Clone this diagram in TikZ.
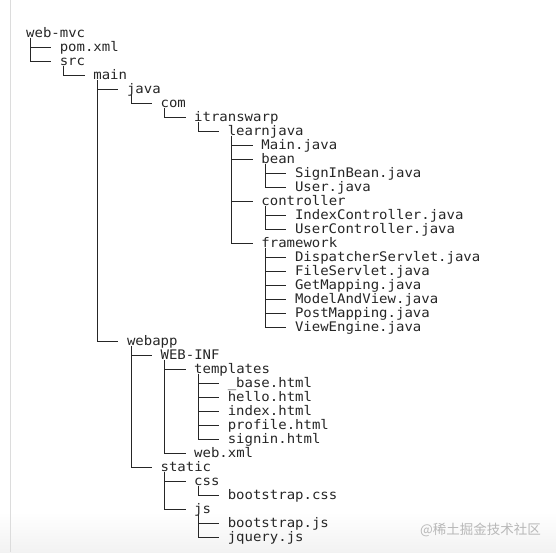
\documentclass[tikz,border=0pt]{standalone}
\usepackage{fontspec}
\setmonofont{DejaVu Sans Mono}[FakeStretch=1.06]
\newfontfamily\cjk{Noto Sans CJK SC}
\definecolor{treeink}{HTML}{262626}
\definecolor{edgegray}{HTML}{DCDCDC}
\definecolor{stampgray}{HTML}{B8B8B8}

\begin{document}
\begin{tikzpicture}[x=1pt,y=-1pt,
  entry/.style={anchor=west,inner sep=0pt,text height=9.4pt,text depth=0pt,
    font=\ttfamily\fontsize{13.2}{14}\selectfont,text=treeink},
  branch/.style={draw=treeink,line width=1pt,shorten >=8.4pt}]
\useasboundingbox (0,0) rectangle (556,552);
\fill[white] (0,0) rectangle (556,552);
\shade[top color=white,bottom color=black!5] (0,512) rectangle (556,552);
\draw[edgegray,line width=1pt] (10,0) -- (10,552);
\foreach \n/\lvl/\row/\txt in {
  root/0/0/web-mvc, pom/1/1/pom.xml, src/1/2/src, main/2/3/main,
  java/3/4/java, com/4/5/com, itw/5/6/itranswarp, learn/6/7/learnjava,
  mainj/7/8/Main.java, bean/7/9/bean, signbean/8/10/SignInBean.java,
  userj/8/11/User.java, ctrl/7/12/controller,
  indexctrl/8/13/IndexController.java, userctrl/8/14/UserController.java,
  fw/7/15/framework, dispatch/8/16/DispatcherServlet.java,
  fileserv/8/17/FileServlet.java, getmap/8/18/GetMapping.java,
  mav/8/19/ModelAndView.java, postmap/8/20/PostMapping.java,
  engine/8/21/ViewEngine.java, webapp/3/22/webapp, webinf/4/23/WEB-INF,
  tpl/5/24/templates, base/6/25/\_base.html, hello/6/26/hello.html,
  index/6/27/index.html, profile/6/28/profile.html,
  signin/6/29/signin.html, webxml/5/30/web.xml, static/4/31/static,
  css/5/32/css, bscss/6/33/bootstrap.css, js/5/34/js,
  bsjs/6/35/bootstrap.js, jq/6/36/jquery.js}
  \node[entry] (\n) at (26+33.6*\lvl,33+14*\row) {\txt};
\foreach \p/\c in {
  root/pom, root/src, src/main, main/java, main/webapp, java/com,
  com/itw, itw/learn, learn/mainj, learn/bean, learn/ctrl, learn/fw,
  bean/signbean, bean/userj, ctrl/indexctrl, ctrl/userctrl,
  fw/dispatch, fw/fileserv, fw/getmap, fw/mav, fw/postmap, fw/engine,
  webapp/webinf, webapp/static, webinf/tpl, webinf/webxml,
  tpl/base, tpl/hello, tpl/index, tpl/profile, tpl/signin,
  static/css, static/js, css/bscss, js/bsjs, js/jq}
  \draw[branch] ([xshift=4.2pt]\p.south west) |- (\c.west);
\node[anchor=east,inner sep=0pt,text=stampgray,font=\cjk\fontsize{13.5}{14}\selectfont]
  (stamp) at (541,530) {@稀土掘金技术社区};
\end{tikzpicture}
\end{document}
